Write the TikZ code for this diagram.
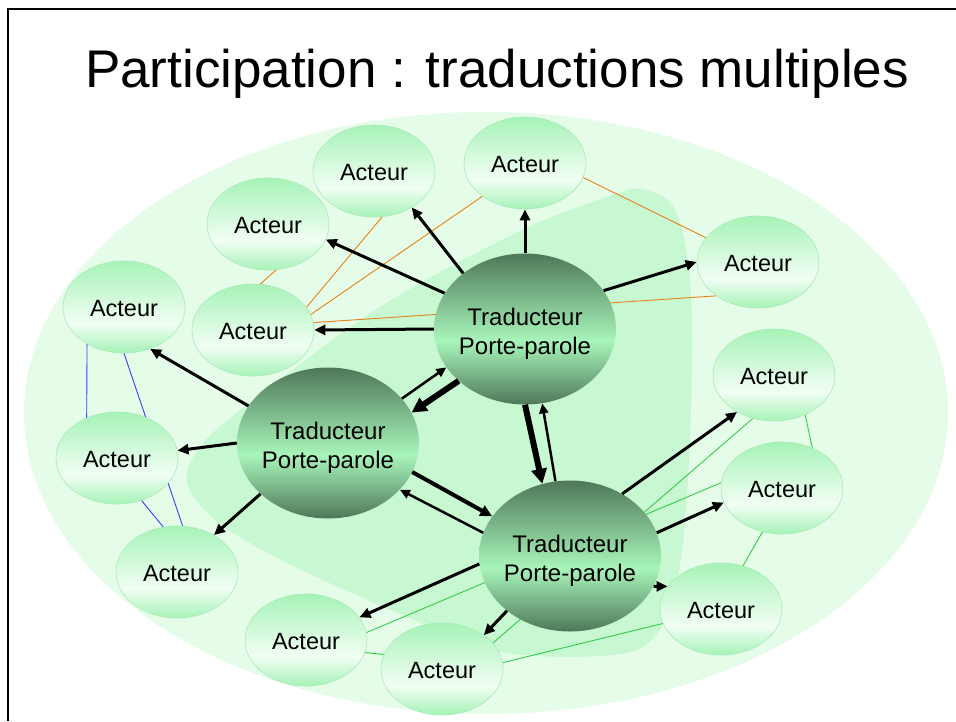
\documentclass[tikz,border=0pt]{standalone}
\usepackage{fontspec}
\setmainfont{Liberation Sans}
\usetikzlibrary{shapes.geometric,arrows.meta}
\pgfdeclarelayer{bglayer}
\pgfdeclarelayer{linelayer}
\pgfsetlayers{bglayer,linelayer,main}
\definecolor{outerbg}{RGB}{229,252,233}
\definecolor{innerbg}{RGB}{199,248,210}
\definecolor{actg}{RGB}{166,243,183}
\definecolor{actw}{RGB}{242,254,244}
\definecolor{actborder}{RGB}{168,234,184}
\definecolor{trd}{RGB}{78,120,88}
\definecolor{trl}{RGB}{168,245,186}
\definecolor{orline}{RGB}{232,130,20}
\definecolor{blline}{RGB}{60,60,250}
\definecolor{grline}{RGB}{50,205,70}
\pgfdeclareverticalshading{actshade}{100bp}{color(0bp)=(actg); color(25bp)=(actg); color(41bp)=(actw); color(75bp)=(actg); color(100bp)=(actg)}
\pgfdeclareverticalshading{tradshade}{100bp}{color(0bp)=(trd); color(25bp)=(trd); color(46bp)=(trl); color(75bp)=(trd); color(100bp)=(trd)}
\newcommand\actlabel{\raisebox{-2pt}[\height][\depth]{Acteur}}
\newcommand\tradlabel{\raisebox{-5pt}[\height][\depth]{\begin{tabular}{@{}c@{}}Traducteur\\Porte-parole\end{tabular}}}
\begin{document}
\begin{tikzpicture}[x=1pt,y=-1pt,
  acteur/.style={ellipse, minimum width=122pt, minimum height=92pt, inner sep=0pt,
    draw=actborder, line width=0.6pt, shading=actshade, font=\fontsize{23.5}{28}\selectfont},
  trad/.style={ellipse, minimum width=182pt, minimum height=151pt, inner ysep=0pt, inner xsep=-5pt,
    shading=tradshade, font=\fontsize{24}{29}\selectfont},
  arr/.style={-{Triangle[length=11pt,width=10pt]}, line width=3pt, black},
  thickarr/.style={-{Triangle[length=15pt,width=15pt]}, line width=6pt, black},
  midarr/.style={-{Triangle[length=12pt,width=11pt]}, line width=4pt, black},
  thinarr/.style={-{Triangle[length=10pt,width=9pt]}, line width=2.5pt, black},
  orl/.style={draw=orline, line width=0.9pt},
  bll/.style={draw=blline, line width=0.9pt},
  grl/.style={draw=grline, line width=0.9pt}]
\useasboundingbox (0,0) rectangle (956,721);
\clip (0,0) rectangle (956,721);
\begin{pgfonlayer}{bglayer}
  \fill[white] (0,0) rectangle (956,721);
  \fill[outerbg] (486,413) ellipse [x radius=462, y radius=301];
  \fill[innerbg] plot[smooth cycle, tension=0.55] coordinates {
    (640,189) (672,205) (688,260) (692,340) (689,460) (679,570) (656,635) (612,655)
    (500,652) (400,614) (283,561) (215,520) (187,482) (200,447) (243,408) (380,307)
    (520,231) (610,196)};
  \draw[line width=2pt] (8,721) -- (8,9) -- (956,9);
\end{pgfonlayer}
\node[font=\fontsize{53}{60}\selectfont, anchor=base, inner sep=0pt] (title) at (497,87) {Participation : traductions multiples};
% actors
\node[acteur] (A1) at (374,171) {\actlabel};
\node[acteur] (A2) at (525,163) {\actlabel};
\node[acteur] (A3) at (268,224) {\actlabel};
\node[acteur] (A4) at (253,330) {\actlabel};
\node[acteur] (A5) at (758,262) {\actlabel};
\node[acteur] (A6) at (124,307) {\actlabel};
\node[acteur] (A7) at (117,458) {\actlabel};
\node[acteur] (A8) at (177,572) {\actlabel};
\node[acteur] (A9) at (306,640) {\actlabel};
\node[acteur] (A10) at (442,669) {\actlabel};
\node[acteur] (A11) at (774,375) {\actlabel};
\node[acteur] (A12) at (782,488) {\actlabel};
\node[acteur] (A13) at (721,609) {\actlabel};
% translators
\node[trad] (T1) at (525,329) {\tradlabel};
\node[trad] (T2) at (328,443) {\tradlabel};
\node[trad] (T3) at (570,556) {\tradlabel};
% thin links behind nodes
\begin{pgfonlayer}{linelayer}
  \draw[orl] (A2.-14) -- (A5.155.7);
  \draw[orl] (A2.218.3) -- (A4.15);
  \draw[orl] (A1.280) -- (A4.23.9);
  \draw[orl] (A3.280) -- (A4.81.3);
  \draw[orl] (A4.7.6) -- (A5.219.8);
  \draw[bll] (A6.225) -- (A7.127);
  \draw[bll] (A6.270) -- (A8.83.8);
  \draw[bll] (A7.300.8) -- (A8.107.3);
  \draw[grl] (A11.-52.2) -- (A12.53.1);
  \draw[grl] (A12.246.6) -- (A13.63.4);
  \draw[grl] (A10.27.5) -- (A11.244);
  \draw[grl] (A9.7.6) -- (A12.175.3);
  \draw[grl] (A9.-12.2) -- (A10.166);
  \draw[grl] (A10.6.7) -- (A13.194);
\end{pgfonlayer}
% arrows
\draw[arr] (T1.156) -- (A3.-15.5);
\draw[arr] (T1.138.4) -- (A1.-44.2);
\draw[arr] (T1.90) -- (A2.-90);
\draw[arr] (T1.180) -- (A4.0);
\draw[arr] (T1.26.6) -- (A5.180);
\draw[thinarr] (T2.31.2) -- (T1.206.6);
\draw[thickarr] (T1.218.5) -- (T2.20);
\draw[thickarr] (T1.270) -- (T3.111);
\draw[thinarr] (T3.101.2) -- (T1.-77.4);
\draw[midarr] (T2.-19.7) -- (T3.153.1);
\draw[thinarr] (T3.165.8) -- (T2.-33.1);
\draw[arr] (T2.155.4) -- (A6.-58.8);
\draw[arr] (T2.180) -- (A7.7.5);
\draw[arr] (T2.217.9) -- (A8.45.7);
\draw[arr] (T3.185) -- (A9.23.9);
\draw[arr] (T3.221.5) -- (A10.39.4);
\draw[arr] (T3.50) -- (A11.225);
\draw[arr] (T3.15.5) -- (A12.194);
\draw[arr] (T3.-20.5) -- (A13.157.5);
\end{tikzpicture}
\end{document}
